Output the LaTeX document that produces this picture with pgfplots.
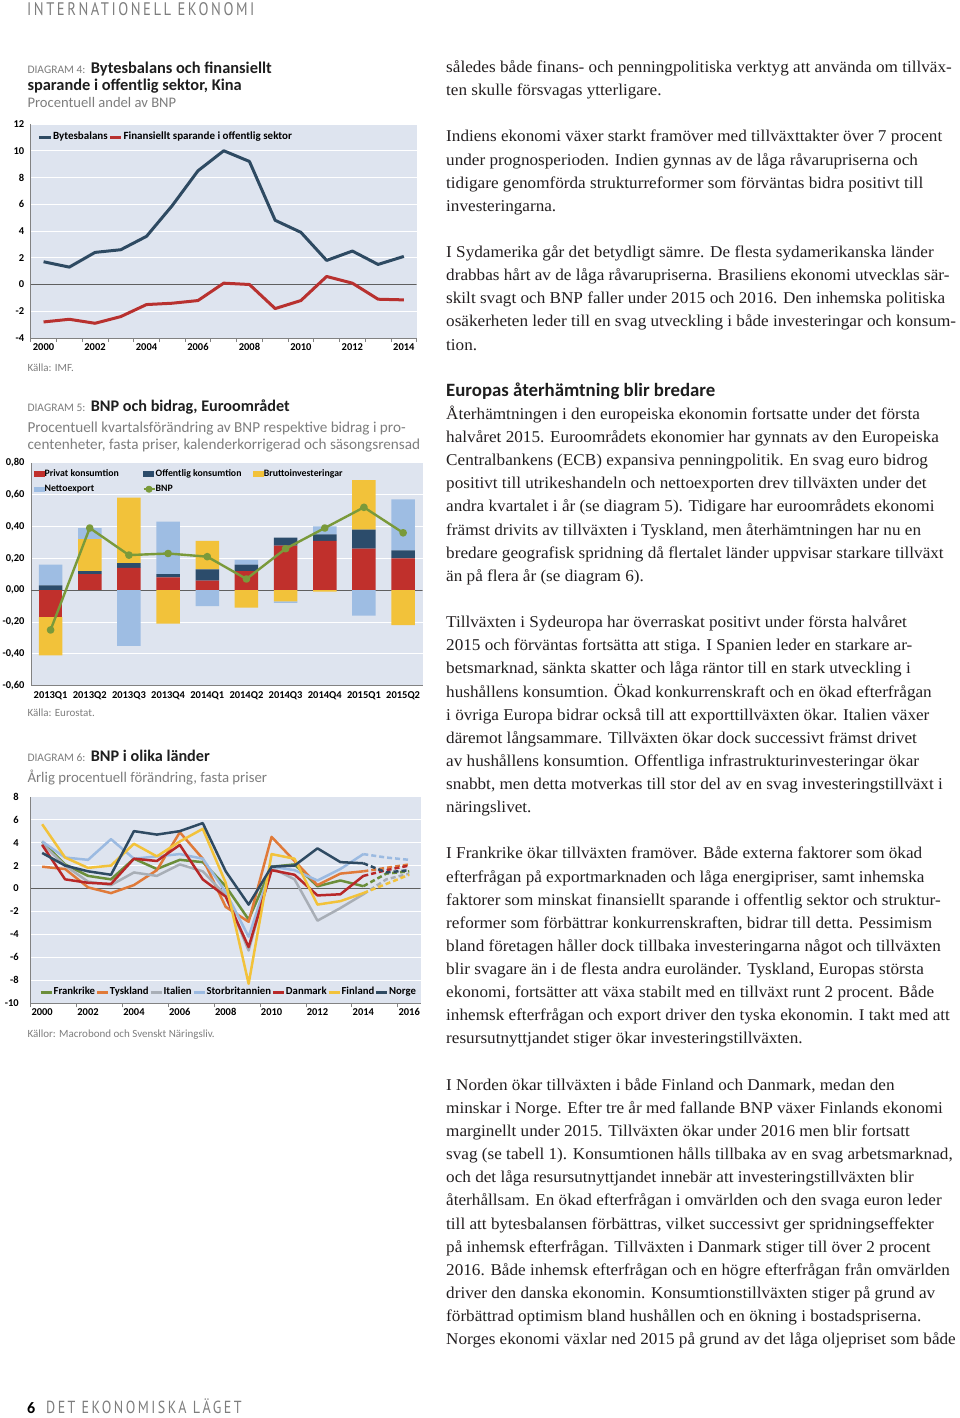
\documentclass[border=0pt]{standalone}
\usepackage{pgfplots}
\pgfplotsset{compat=1.18}
\usepackage{fontspec}
\setmainfont[FakeStretch=1.04]{Liberation Serif}
\newfontfamily\cf{Carlito}
\newfontfamily\hf[LetterSpace=14,FakeStretch=0.8]{PT Sans}
\definecolor{bgc}{RGB}{222,228,239}
\definecolor{navy}{RGB}{46,74,98}
\definecolor{crim}{RGB}{184,49,47}
\definecolor{txt}{RGB}{35,31,32}
\definecolor{greytxt}{RGB}{125,125,125}
\definecolor{titlec}{RGB}{30,30,30}
\definecolor{axgrey}{RGB}{130,130,130}
\definecolor{zerogrey}{RGB}{95,95,95}
\definecolor{cgreen}{RGB}{107,142,58}
\definecolor{corange}{RGB}{224,122,57}
\definecolor{cgrey}{RGB}{168,174,182}
\definecolor{clblue}{RGB}{155,186,225}
\definecolor{cred}{RGB}{184,40,40}
\definecolor{cyellow}{RGB}{242,194,58}
\definecolor{bred}{RGB}{192,48,44}
\definecolor{bnavy}{RGB}{44,76,107}
\definecolor{byellow}{RGB}{242,194,58}
\definecolor{bblue}{RGB}{158,189,227}
\definecolor{bgreen}{RGB}{122,154,58}
\newcommand{\tkf}{\cf\bfseries\fontsize{10.5}{12}\selectfont}
\newcommand{\lgf}{\cf\bfseries\fontsize{11}{13}\selectfont}
\pgfplotsset{
  pg/.style={scale only axis, anchor=north west,
    axis background/.style={fill=bgc},
    axis x line*=bottom, axis y line*=left,
    axis line style={-, axgrey, line width=0.8pt},
    xtick pos=bottom, ytick pos=left,
    ymajorgrids, major grid style={white, line width=0.9pt},
    tick label style={font=\tkf, text=black},
    major tick length=0pt, minor tick length=4pt, tick align=outside,
    minor tick style={axgrey, line width=0.8pt},
    yticklabel style={xshift=-3pt},
    xticklabel style={yshift=-2pt, text height=7pt, text depth=0pt},
  },
  ov/.style={scale only axis, anchor=north west, hide axis},
}
\newcommand{\bl}[2]{\node[anchor=base west, inner sep=0pt, text=txt, font=\fontsize{16.5}{18}\selectfont] at (446,{-(72.5+23.13*#1)}) {#2};}
\newcommand{\dg}[3]{\node[anchor=base west, inner sep=0pt, text=greytxt] at (27.3,-#1) {\cf\fontsize{11.5}{13}\selectfont DIAGRAM #2:};}
\begin{document}
\begin{tikzpicture}[x=1pt,y=1pt]
\path[use as bounding box] (0,0) rectangle (960,-1418);
% header / footer
\node[anchor=base west, inner sep=0pt, text=greytxt] at (27,-16) {\hf\fontsize{18.2}{20}\selectfont INTERNATIONELL EKONOMI};
\node[anchor=base west, inner sep=0pt, text=black] at (27,-1413.5) {\cf\bfseries\fontsize{16}{18}\selectfont 6};
\node[anchor=base west, inner sep=0pt, text=greytxt] at (46,-1413.5) {\hf\fontsize{17.5}{19}\selectfont DET EKONOMISKA LÄGET};

% ---------- Diagram 4 titles
\dg{73.7}{4}{}
\node[anchor=base west, inner sep=0pt, text=titlec] at (90.7,-73.7) {\cf\bfseries\fontsize{16.4}{19}\selectfont Bytesbalans och finansiellt};
\node[anchor=base west, inner sep=0pt, text=titlec] at (27.3,-90.7) {\cf\bfseries\fontsize{16.4}{19}\selectfont sparande i offentlig sektor, Kina};
\node[anchor=base west, inner sep=0pt, text=greytxt] at (27.3,-107.7) {\cf\fontsize{14.6}{16}\selectfont Procentuell andel av BNP};
\node[anchor=base west, inner sep=0pt, text=greytxt] at (27.3,-371) {\cf\fontsize{11}{12}\selectfont Källa: IMF.};

\begin{axis}[pg, at={(30.7pt,-124pt)}, width=386pt, height=214pt,
  xmin=1999.5, xmax=2014.5, ymin=-4, ymax=12,
  xtick={2000,2002,2004,2006,2008,2010,2012,2014},
  xticklabels={2000,2002,2004,2006,2008,2010,2012,2014},
  minor xtick={1999.5,2000.5,2001.5,2002.5,2003.5,2004.5,2005.5,2006.5,2007.5,2008.5,2009.5,2010.5,2011.5,2012.5,2013.5,2014.5},
  ytick={-4,-2,0,2,4,6,8,10,12}, yticklabels={-4,-2,0,2,4,6,8,10,12},
  legend style={at={(0.018,0.939)}, anchor=west, draw=none, fill=none, legend columns=2,
    font=\lgf, column sep=0pt, inner sep=0pt, nodes={inner sep=0.6pt, text height=7.5pt, text depth=2.5pt}},
  legend image code/.code={\draw[#1] (0pt,0pt) -- (11.6pt,0pt);},
]
\draw[zerogrey, line width=1.6pt] (axis cs:1999.5,0) -- (axis cs:2014.5,0);
\addplot[navy, line width=3pt, line join=round] coordinates {(2000,1.7)(2001,1.3)(2002,2.4)(2003,2.6)(2004,3.6)(2005,5.9)(2006,8.5)(2007,10.0)(2008,9.2)(2009,4.8)(2010,3.9)(2011,1.8)(2012,2.5)(2013,1.5)(2014,2.1)};
\addlegendentry{Bytesbalans}
\addplot[crim, line width=3pt, line join=round] coordinates {(2000,-2.8)(2001,-2.6)(2002,-2.9)(2003,-2.4)(2004,-1.5)(2005,-1.4)(2006,-1.2)(2007,0.1)(2008,0.0)(2009,-1.8)(2010,-1.2)(2011,0.6)(2012,0.1)(2013,-1.1)(2014,-1.15)};
\addlegendentry{Finansiellt sparande i offentlig sektor}
\end{axis}

% ---------- Diagram 5 titles
\dg{411.7}{5}{}
\node[anchor=base west, inner sep=0pt, text=titlec] at (90.7,-411.7) {\cf\bfseries\fontsize{16.2}{19}\selectfont BNP och bidrag, Euroområdet};
\node[anchor=base west, inner sep=0pt, text=greytxt] at (27.3,-432.7) {\cf\fontsize{15.2}{16}\selectfont Procentuell kvartalsförändring av BNP respektive bidrag i pro-};
\node[anchor=base west, inner sep=0pt, text=greytxt] at (27.3,-449.3) {\cf\fontsize{15.2}{16}\selectfont centenheter, fasta priser, kalenderkorrigerad och säsongsrensad};
\node[anchor=base west, inner sep=0pt, text=greytxt] at (27.3,-716) {\cf\fontsize{11}{12}\selectfont Källa: Eurostat.};

% positive contributions
\begin{axis}[pg, ybar stacked, bar width=23.5pt, at={(31pt,-462.7pt)}, width=391.7pt, height=223pt,
  xmin=-0.5, xmax=9.5, ymin=-0.6, ymax=0.8,
  xtick={0,1,2,3,4,5,6,7,8,9},
  xticklabels={2013Q1,2013Q2,2013Q3,2013Q4,2014Q1,2014Q2,2014Q3,2014Q4,2015Q1,2015Q2},
  ytick={-0.6,-0.4,-0.2,0,0.2,0.4,0.6,0.8},
  yticklabels={{-0,60},{-0,40},{-0,20},{0,00},{0,20},{0,40},{0,60},{0,80}},
]
\draw[zerogrey, line width=1.2pt] (axis cs:-0.5,0) -- (axis cs:9.5,0);
\addplot[fill=bred, draw=none] coordinates {(0,0)(1,0.10)(2,0.14)(3,0.08)(4,0.06)(5,0.12)(6,0.28)(7,0.31)(8,0.26)(9,0.20)};
\addplot[fill=bnavy, draw=none] coordinates {(0,0.03)(1,0.02)(2,0.03)(3,0.02)(4,0.07)(5,0.04)(6,0.05)(7,0.04)(8,0.12)(9,0.05)};
\addplot[fill=byellow, draw=none] coordinates {(0,0)(1,0.20)(2,0.41)(3,0)(4,0.18)(5,0)(6,0)(7,0)(8,0.31)(9,0)};
\addplot[fill=bblue, draw=none] coordinates {(0,0.13)(1,0.07)(2,0)(3,0.33)(4,0)(5,0.03)(6,0)(7,0.05)(8,0)(9,0.32)};
\end{axis}
% negative contributions
\begin{axis}[ov, ybar stacked, bar width=23.5pt, at={(31pt,-462.7pt)}, width=391.7pt, height=223pt,
  xmin=-0.5, xmax=9.5, ymin=-0.6, ymax=0.8]
\addplot[fill=bred, draw=none] coordinates {(0,-0.17)(1,0)(2,0)(3,0)(4,0)(5,0)(6,0)(7,0)(8,0)(9,0)};
\addplot[fill=bnavy, draw=none] coordinates {(0,0)(1,0)(2,0)(3,0)(4,0)(5,0)(6,0)(7,0)(8,0)(9,0)};
\addplot[fill=byellow, draw=none] coordinates {(0,-0.24)(1,0)(2,0)(3,-0.21)(4,0)(5,-0.11)(6,-0.07)(7,-0.01)(8,0)(9,-0.22)};
\addplot[fill=bblue, draw=none] coordinates {(0,0)(1,0)(2,-0.35)(3,0)(4,-0.10)(5,0)(6,-0.01)(7,0)(8,-0.16)(9,0)};
\end{axis}
% GDP line and legend
\begin{axis}[ov, at={(31pt,-462.7pt)}, width=391.7pt, height=223pt,
  xmin=-0.5, xmax=9.5, ymin=-0.6, ymax=0.8,
  legend style={at={(0.0077,0.9726)}, anchor=north west, draw=none, fill=none, legend columns=3,
    font=\cf\bfseries\fontsize{9.8}{11}\selectfont, column sep=0pt, row sep=6.7pt, inner sep=0pt,
    nodes={inner sep=0pt, text height=7pt, text depth=2pt}},
  legend image code/.code={\draw[#1] (0pt,0pt) -- (11pt,0pt); \fill[bgreen] (5.5pt,0pt) circle (2.3pt);},
]
\addlegendimage{legend image code/.code={\fill[bred] (0pt,-2.4pt) rectangle (10pt,2.4pt);}}
\addlegendentry{\makebox[97.7pt][l]{Privat konsumtion}}
\addlegendimage{legend image code/.code={\fill[bnavy] (0pt,-2.4pt) rectangle (10pt,2.4pt);}}
\addlegendentry{\makebox[97.7pt][l]{Offentlig konsumtion}}
\addlegendimage{legend image code/.code={\fill[byellow] (0pt,-2.4pt) rectangle (10pt,2.4pt);}}
\addlegendentry{\makebox[97.7pt][l]{Bruttoinvesteringar}}
\addlegendimage{legend image code/.code={\fill[bblue] (0pt,-2.4pt) rectangle (10pt,2.4pt);}}
\addlegendentry{\makebox[97.7pt][l]{Nettoexport}}
\addplot[bgreen, line width=2.4pt, line join=round, mark=*, mark size=2.6pt, mark options={fill=bgreen, draw=bgreen}]
  coordinates {(0,-0.25)(1,0.39)(2,0.22)(3,0.23)(4,0.21)(5,0.07)(6,0.26)(7,0.39)(8,0.52)(9,0.36)};
\addlegendentry{\makebox[97.7pt][l]{BNP}}
\end{axis}

% ---------- Diagram 6 titles
\dg{761.7}{6}{}
\node[anchor=base west, inner sep=0pt, text=titlec] at (90.7,-761.7) {\cf\bfseries\fontsize{16.2}{19}\selectfont BNP i olika länder};
\node[anchor=base west, inner sep=0pt, text=greytxt] at (27.3,-782.7) {\cf\fontsize{14.8}{16}\selectfont Årlig procentuell förändring, fasta priser};
\node[anchor=base west, inner sep=0pt, text=greytxt] at (27.3,-1037) {\cf\fontsize{11}{12}\selectfont Källor: Macrobond och Svenskt Näringsliv.};

\begin{axis}[pg, at={(30.7pt,-796.7pt)}, width=390pt, height=206.6pt,
  xmin=1999.5, xmax=2016.5, ymin=-10, ymax=8,
  xtick={2000,2002,2004,2006,2008,2010,2012,2014,2016},
  xticklabels={2000,2002,2004,2006,2008,2010,2012,2014,2016},
  minor xtick={1999.5,2001.5,2003.5,2005.5,2007.5,2009.5,2011.5,2013.5,2015.5},
  ytick={-10,-8,-6,-4,-2,0,2,4,6,8}, yticklabels={-10,-8,-6,-4,-2,0,2,4,6,8},
  yticklabel style={xshift=-5.5pt},
  legend style={at={(0.022,0.053)}, anchor=west, draw=none, fill=none, legend columns=7,
    font=\cf\bfseries\fontsize{10.7}{13}\selectfont, column sep=0pt, inner sep=0pt, nodes={inner sep=0.7pt, text height=7.5pt, text depth=2.5pt}},
  legend image code/.code={\draw[#1] (0pt,0pt) -- (11pt,0pt);},
  dsh/.style={line width=2.5pt, dash pattern=on 5pt off 3pt, forget plot},
]
\draw[zerogrey, line width=1.6pt] (axis cs:1999.5,0) -- (axis cs:2016.5,0);
\addplot[cgreen, line width=2.5pt, line join=round] coordinates {(2000,4.1)(2001,2.1)(2002,1.1)(2003,0.8)(2004,2.6)(2005,1.7)(2006,2.5)(2007,2.3)(2008,0.2)(2009,-2.7)(2010,1.9)(2011,2.1)(2012,0.2)(2013,0.7)(2014,0.2)};
\addlegendentry{Frankrike}
\addplot[cgreen, dsh] coordinates {(2014,0.2)(2015,1.3)(2016,1.5)};
\addplot[corange, line width=2.5pt, line join=round] coordinates {(2000,1.9)(2001,1.7)(2002,0.1)(2003,-0.4)(2004,0.3)(2005,1.6)(2006,4.9)(2007,2.6)(2008,-1.6)(2009,-2.9)(2010,4.5)(2011,2.4)(2012,0.3)(2013,1.3)(2014,1.5)};
\addlegendentry{Tyskland}
\addplot[corange, dsh] coordinates {(2014,1.5)(2015,1.8)(2016,2.1)};
\addplot[cgrey, line width=2.5pt, line join=round] coordinates {(2000,3.9)(2001,2.0)(2002,0.6)(2003,0.3)(2004,1.4)(2005,1.1)(2006,2.1)(2007,1.5)(2008,-0.6)(2009,-5.4)(2010,1.8)(2011,0.8)(2012,-2.8)(2013,-1.7)(2014,-0.5)};
\addlegendentry{Italien}
\addplot[cgrey, dsh] coordinates {(2014,-0.5)(2015,0.8)(2016,1.3)};
\addplot[clblue, line width=2.5pt, line join=round] coordinates {(2000,4.1)(2001,2.7)(2002,2.5)(2003,4.3)(2004,2.6)(2005,2.8)(2006,3.0)(2007,2.6)(2008,-0.3)(2009,-4.2)(2010,1.9)(2011,1.6)(2012,0.7)(2013,1.7)(2014,3.0)};
\addlegendentry{Storbritannien}
\addplot[clblue, dsh] coordinates {(2014,3.0)(2015,2.7)(2016,2.5)};
\addplot[cred, line width=2.5pt, line join=round] coordinates {(2000,3.8)(2001,0.8)(2002,0.5)(2003,0.4)(2004,2.6)(2005,2.4)(2006,3.8)(2007,0.8)(2008,-0.7)(2009,-5.1)(2010,1.6)(2011,1.2)(2012,-0.6)(2013,-0.5)(2014,1.1)};
\addlegendentry{Danmark}
\addplot[cred, dsh] coordinates {(2014,1.1)(2015,1.6)(2016,2.0)};
\addplot[cyellow, line width=2.5pt, line join=round] coordinates {(2000,5.6)(2001,2.7)(2002,1.8)(2003,2.0)(2004,3.9)(2005,2.8)(2006,4.1)(2007,5.2)(2008,0.5)(2009,-8.3)(2010,3.0)(2011,2.6)(2012,-1.4)(2013,-1.1)(2014,-0.4)};
\addlegendentry{Finland}
\addplot[cyellow, dsh] coordinates {(2014,-0.4)(2015,0.4)(2016,1.2)};
\addplot[navy, line width=2.5pt, line join=round] coordinates {(2000,3.1)(2001,2.0)(2002,1.5)(2003,1.2)(2004,5.0)(2005,4.7)(2006,5.0)(2007,5.7)(2008,1.5)(2009,-1.4)(2010,1.9)(2011,2.0)(2012,3.5)(2013,2.3)(2014,2.2)};
\addlegendentry{Norge}
\addplot[navy, dsh] coordinates {(2014,2.2)(2015,1.4)(2016,1.6)};
\end{axis}

% ---------- Right column text
\bl{0}{således både finans- och penningpolitiska verktyg att använda om tillväx-}
\bl{1}{ten skulle försvagas ytterligare.}
\bl{3}{Indiens ekonomi växer starkt framöver med tillväxttakter över 7 procent}
\bl{4}{under prognosperioden. Indien gynnas av de låga råvarupriserna och}
\bl{5}{tidigare genomförda strukturreformer som förväntas bidra positivt till}
\bl{6}{investeringarna.}
\bl{8}{I Sydamerika går det betydligt sämre. De flesta sydamerikanska länder}
\bl{9}{drabbas hårt av de låga råvarupriserna. Brasiliens ekonomi utvecklas sär-}
\bl{10}{skilt svagt och BNP faller under 2015 och 2016. Den inhemska politiska}
\bl{11}{osäkerheten leder till en svag utveckling i både investeringar och konsum-}
\bl{12}{tion.}
\node[anchor=base west, inner sep=0pt, text=titlec] at (446,{-(72.5+23.13*14)}) {\cf\bfseries\fontsize{18.8}{20}\selectfont Europas återhämtning blir bredare};
\bl{15}{Återhämtningen i den europeiska ekonomin fortsatte under det första}
\bl{16}{halvåret 2015. Euroområdets ekonomier har gynnats av den Europeiska}
\bl{17}{Centralbankens (ECB) expansiva penningpolitik. En svag euro bidrog}
\bl{18}{positivt till utrikeshandeln och nettoexporten drev tillväxten under det}
\bl{19}{andra kvartalet i år (se diagram 5). Tidigare har euroområdets ekonomi}
\bl{20}{främst drivits av tillväxten i Tyskland, men återhämtningen har nu en}
\bl{21}{bredare geografisk spridning då flertalet länder uppvisar starkare tillväxt}
\bl{22}{än på flera år (se diagram 6).}
\bl{24}{Tillväxten i Sydeuropa har överraskat positivt under första halvåret}
\bl{25}{2015 och förväntas fortsätta att stiga. I Spanien leder en starkare ar-}
\bl{26}{betsmarknad, sänkta skatter och låga räntor till en stark utveckling i}
\bl{27}{hushållens konsumtion. Ökad konkurrenskraft och en ökad efterfrågan}
\bl{28}{i övriga Europa bidrar också till att exporttillväxten ökar. Italien växer}
\bl{29}{däremot långsammare. Tillväxten ökar dock successivt främst drivet}
\bl{30}{av hushållens konsumtion. Offentliga infrastrukturinvesteringar ökar}
\bl{31}{snabbt, men detta motverkas till stor del av en svag investeringstillväxt i}
\bl{32}{näringslivet.}
\bl{34}{I Frankrike ökar tillväxten framöver. Både externa faktorer som ökad}
\bl{35}{efterfrågan på exportmarknaden och låga energipriser, samt inhemska}
\bl{36}{faktorer som minskat finansiellt sparande i offentlig sektor och struktur-}
\bl{37}{reformer som förbättrar konkurrenskraften, bidrar till detta. Pessimism}
\bl{38}{bland företagen håller dock tillbaka investeringarna något och tillväxten}
\bl{39}{blir svagare än i de flesta andra euroländer. Tyskland, Europas största}
\bl{40}{ekonomi, fortsätter att växa stabilt med en tillväxt runt 2 procent. Både}
\bl{41}{inhemsk efterfrågan och export driver den tyska ekonomin. I takt med att}
\bl{42}{resursutnyttjandet stiger ökar investeringstillväxten.}
\bl{44}{I Norden ökar tillväxten i både Finland och Danmark, medan den}
\bl{45}{minskar i Norge. Efter tre år med fallande BNP växer Finlands ekonomi}
\bl{46}{marginellt under 2015. Tillväxten ökar under 2016 men blir fortsatt}
\bl{47}{svag (se tabell 1). Konsumtionen hålls tillbaka av en svag arbetsmarknad,}
\bl{48}{och det låga resursutnyttjandet innebär att investeringstillväxten blir}
\bl{49}{återhållsam. En ökad efterfrågan i omvärlden och den svaga euron leder}
\bl{50}{till att bytesbalansen förbättras, vilket successivt ger spridningseffekter}
\bl{51}{på inhemsk efterfrågan. Tillväxten i Danmark stiger till över 2 procent}
\bl{52}{2016. Både inhemsk efterfrågan och en högre efterfrågan från omvärlden}
\bl{53}{driver den danska ekonomin. Konsumtionstillväxten stiger på grund av}
\bl{54}{förbättrad optimism bland hushållen och en ökning i bostadspriserna.}
\bl{55}{Norges ekonomi växlar ned 2015 på grund av det låga oljepriset som både}
\end{tikzpicture}
\end{document}
